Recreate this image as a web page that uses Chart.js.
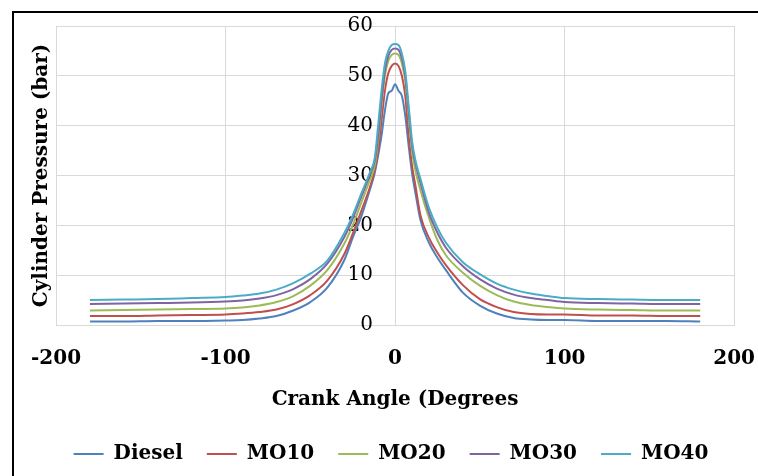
<!DOCTYPE html>
<html>
<head>
<meta charset="utf-8">
<script src="https://cdn.jsdelivr.net/npm/chart.js@4"></script>
<style>
  html, body { margin: 0; padding: 0; background: #fff; overflow: hidden; }
  #frame {
    position: absolute; left: 12px; top: 11px;
    width: 800px; height: 500px;
    border-left: 2px solid #000; border-top: 2px solid #000;
    overflow: hidden;
  }
  canvas { display: block; }
</style>
</head>
<body>
<div id="frame"><canvas id="pressureChart" width="758" height="463"></canvas></div>
<script>
// crank angle (degrees) and cylinder pressure (bar)
const crankAngle = [-180, -160, -140, -120, -100, -90, -80, -70, -60, -50, -40, -30, -25, -20, -15, -12, -10, -8, -6, -4, -2, 0,
                    2, 4, 6, 8, 10, 12, 15, 20, 25, 30, 40, 50, 60, 70, 80, 90, 100, 120, 140, 160, 180];

const diesel = [0.7, 0.7, 0.8, 0.8, 0.9, 1.0, 1.3, 1.8, 2.9, 4.6, 7.5, 13.0, 17.5, 21.7, 27.0, 30.5, 34, 38, 43, 46.5, 47.0, 48.3,
                47.0, 46.0, 42, 36, 30.5, 26.5, 21, 16.5, 13.5, 11, 6.5, 3.9, 2.3, 1.4, 1.1, 1.0, 1.0, 0.8, 0.8, 0.8, 0.7];
const mo10 = [1.8, 1.8, 1.9, 2.0, 2.1, 2.3, 2.6, 3.1, 4.2, 6.0, 8.9, 14.2, 18.3, 22.8, 27.5, 31, 35, 41, 47, 50.5, 52, 52.5,
              52, 50, 46, 38, 32, 28, 22, 17.5, 14.5, 12, 8, 5.2, 3.6, 2.6, 2.2, 2.1, 2.1, 1.9, 1.9, 1.8, 1.8];
const mo20 = [2.9, 3.0, 3.1, 3.2, 3.3, 3.5, 3.9, 4.6, 5.8, 7.9, 11.0, 16.3, 20, 24.5, 29, 32, 37, 44, 50, 53, 54.2, 54.5,
              54.2, 52.5, 49, 42, 35, 31, 27, 21.5, 17, 14, 10.5, 7.9, 6.0, 4.7, 4.0, 3.6, 3.3, 3.1, 3.0, 2.9, 2.9];
const mo30 = [4.2, 4.3, 4.4, 4.5, 4.7, 4.9, 5.3, 6.0, 7.2, 9.2, 12.3, 17.6, 21.3, 25.7, 30, 33, 38, 45, 51, 54, 55.2, 55.5,
              55.2, 53.5, 50, 43, 36, 32.5, 28.5, 22.5, 18.5, 15.5, 11.8, 9.2, 7.3, 6.1, 5.4, 5.0, 4.6, 4.4, 4.3, 4.2, 4.2];
const mo40 = [5.0, 5.1, 5.2, 5.4, 5.6, 5.9, 6.3, 7.1, 8.4, 10.3, 12.9, 18.4, 22, 26.3, 30.5, 33.5, 40, 47, 52.5, 55, 56.2, 56.4,
              56.2, 54.5, 51, 44, 37, 33, 29.3, 23.5, 19.5, 16.5, 12.6, 10.2, 8.3, 7.1, 6.3, 5.8, 5.4, 5.2, 5.1, 5.0, 5.0];

const seriesNames = ['Diesel', 'MO10', 'MO20', 'MO30', 'MO40'];
const seriesValues = [diesel, mo10, mo20, mo30, mo40];
const seriesColors = ['#4F81BD', '#C0504D', '#9BBB59', '#8064A2', '#4BACC6'];

const serifBold = { family: 'DejaVu Serif', size: 20, weight: 'bold' };

const datasets = seriesNames.map((name, i) => ({
    label: name,
    data: crankAngle.map((a, j) => ({ x: a, y: seriesValues[i][j] })),
    borderColor: seriesColors[i],
    backgroundColor: seriesColors[i],
    borderWidth: 2,
    pointRadius: 0,
    cubicInterpolationMode: 'monotone',
    yAxisID: 'y',
    order: seriesNames.length - i   // later fuels drawn on top
}));

const ctx = document.getElementById('pressureChart').getContext('2d');
const pressureChart = new Chart(ctx, {
    type: 'line',
    data: { datasets: datasets },
    options: {
        responsive: false,
        animation: false,
        devicePixelRatio: 1,
        layout: { padding: { top: 13, right: 4, bottom: 2, left: 0 } },
        plugins: {
            legend: {
                position: 'bottom',
                labels: {
                    boxWidth: 30,
                    boxHeight: 0,
                    padding: 24,
                    color: '#000',
                    font: serifBold,
                    sort: (a, b) => a.datasetIndex - b.datasetIndex
                }
            },
            tooltip: { enabled: false }
        },
        scales: {
            x: {
                type: 'linear',
                min: -200,
                max: 200,
                ticks: { stepSize: 100, padding: 17, color: '#000', font: serifBold },
                grid: { color: '#d9d9d9', drawTicks: true, tickLength: 5, tickColor: 'rgba(0,0,0,0)' },
                border: { color: '#d9d9d9' },
                title: {
                    display: true,
                    text: 'Crank Angle (Degrees',
                    color: '#000',
                    font: serifBold,
                    padding: { top: 0, bottom: 8 }
                }
            },
            y: {
                // value labels sit just left of the 0° line, as in the original
                position: { x: -13 },
                min: 0,
                max: 60,
                ticks: { stepSize: 10, padding: 0, color: '#000', font: { family: 'DejaVu Serif', size: 20 } },
                grid: { color: '#d9d9d9', drawTicks: false },
                border: { display: false }
            },
            yTitle: {
                axis: 'y',
                position: 'left',
                min: 0,
                max: 60,
                ticks: { display: false },
                grid: { display: false, drawTicks: false },
                border: { display: false },
                title: {
                    display: true,
                    text: 'Cylinder Pressure (bar)',
                    color: '#000',
                    font: serifBold,
                    padding: { top: 16, bottom: 2 }
                }
            }
        }
    }
});
</script>
</body>
</html>
